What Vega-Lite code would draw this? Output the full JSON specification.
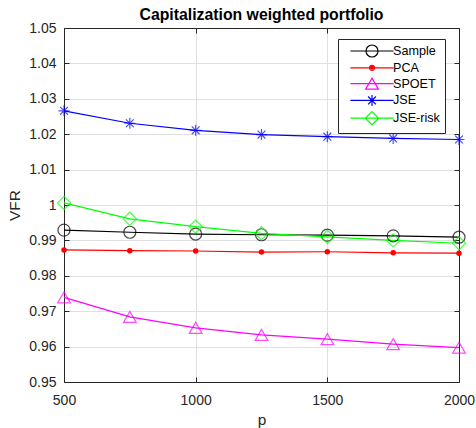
{
  "$schema": "https://vega.github.io/schema/vega-lite/v6.json",
  "width": 395,
  "height": 354,
  "autosize": {"type": "none"},
  "padding": {"left": 64, "top": 28, "right": 17, "bottom": 46},
  "background": "white",
  "config": {"view": {"stroke": null}, "font": "Liberation Sans"},
  "title": {
    "text": "Capitalization weighted portfolio",
    "font": "Liberation Sans",
    "fontSize": 15.8,
    "fontWeight": "bold",
    "color": "#000000",
    "anchor": "middle",
    "offset": -2.5
  },
  "data": {
    "values": [
      {"p": 500, "series": "Sample", "VFR": 0.9929},
      {"p": 750, "series": "Sample", "VFR": 0.9923},
      {"p": 1000, "series": "Sample", "VFR": 0.9918},
      {"p": 1250, "series": "Sample", "VFR": 0.9916},
      {"p": 1500, "series": "Sample", "VFR": 0.9915},
      {"p": 1750, "series": "Sample", "VFR": 0.9913},
      {"p": 2000, "series": "Sample", "VFR": 0.9909},
      {"p": 500, "series": "PCA", "VFR": 0.9873},
      {"p": 750, "series": "PCA", "VFR": 0.9871},
      {"p": 1000, "series": "PCA", "VFR": 0.987},
      {"p": 1250, "series": "PCA", "VFR": 0.9867},
      {"p": 1500, "series": "PCA", "VFR": 0.9868},
      {"p": 1750, "series": "PCA", "VFR": 0.9865},
      {"p": 2000, "series": "PCA", "VFR": 0.9864},
      {"p": 500, "series": "SPOET", "VFR": 0.9739},
      {"p": 750, "series": "SPOET", "VFR": 0.9684},
      {"p": 1000, "series": "SPOET", "VFR": 0.9653},
      {"p": 1250, "series": "SPOET", "VFR": 0.9633},
      {"p": 1500, "series": "SPOET", "VFR": 0.9621},
      {"p": 1750, "series": "SPOET", "VFR": 0.9607},
      {"p": 2000, "series": "SPOET", "VFR": 0.9597},
      {"p": 500, "series": "JSE", "VFR": 1.0266},
      {"p": 750, "series": "JSE", "VFR": 1.0231},
      {"p": 1000, "series": "JSE", "VFR": 1.0211},
      {"p": 1250, "series": "JSE", "VFR": 1.0199},
      {"p": 1500, "series": "JSE", "VFR": 1.0193},
      {"p": 1750, "series": "JSE", "VFR": 1.0188},
      {"p": 2000, "series": "JSE", "VFR": 1.0185},
      {"p": 500, "series": "JSE-risk", "VFR": 1.0006},
      {"p": 750, "series": "JSE-risk", "VFR": 0.9961},
      {"p": 1000, "series": "JSE-risk", "VFR": 0.9939},
      {"p": 1250, "series": "JSE-risk", "VFR": 0.992},
      {"p": 1500, "series": "JSE-risk", "VFR": 0.991},
      {"p": 1750, "series": "JSE-risk", "VFR": 0.99},
      {"p": 2000, "series": "JSE-risk", "VFR": 0.9892}
    ]
  },
  "layer": [
    {
      "mark": {"type": "line", "strokeWidth": 1.2},
      "encoding": {
        "x": {
          "field": "p", "type": "quantitative",
          "scale": {"domain": [500, 2000], "nice": false, "zero": false},
          "axis": {
            "orient": "bottom",
            "values": [500, 1000, 1500, 2000],
            "format": "d", "labelFlush": false,
            "grid": true, "gridColor": "#dfdfdf", "gridWidth": 1,
            "domainColor": "#262626", "domainWidth": 1,
            "tickColor": "#262626", "tickSize": -5,
            "labelFontSize": 14, "labelColor": "#262626", "labelPadding": 16,
            "labelFont": "Liberation Sans",
            "title": "p", "titleFontSize": 15.4, "titleFontWeight": "normal",
            "titleColor": "#262626", "titleFont": "Liberation Sans", "titlePadding": 5
          }
        },
        "y": {
          "field": "VFR", "type": "quantitative",
          "scale": {"domain": [0.95, 1.05], "nice": false, "zero": false},
          "axis": {
            "orient": "left",
            "values": [0.95, 0.96, 0.97, 0.98, 0.99, 1, 1.01, 1.02, 1.03, 1.04, 1.05],
            "format": "~g", "labelFlush": false,
            "grid": true, "gridColor": "#dfdfdf", "gridWidth": 1,
            "domainColor": "#262626", "domainWidth": 1,
            "tickColor": "#262626", "tickSize": -5,
            "labelFontSize": 14, "labelColor": "#262626", "labelPadding": 13,
            "labelFont": "Liberation Sans",
            "title": "VFR", "titleFontSize": 15.4, "titleFontWeight": "normal",
            "titleColor": "#262626", "titleFont": "Liberation Sans", "titlePadding": 6
          }
        },
        "color": {
          "field": "series", "type": "nominal", "legend": null,
          "scale": {
            "domain": ["Sample", "PCA", "SPOET", "JSE", "JSE-risk"],
            "range": ["#000000", "#ff0000", "#ff00ff", "#0000ff", "#00ff00"]
          }
        }
      }
    },
    {
      "transform": [{"filter": "datum.series !== 'PCA'"}],
      "mark": {"type": "point", "filled": false, "size": 144, "strokeWidth": 1.2},
      "encoding": {
        "x": {
          "field": "p", "type": "quantitative",
          "axis": {
            "orient": "top", "values": [500, 1000, 1500, 2000],
            "labels": false, "grid": false, "title": null,
            "domainColor": "#262626", "domainWidth": 1,
            "tickColor": "#262626", "tickSize": -5
          }
        },
        "y": {
          "field": "VFR", "type": "quantitative",
          "axis": {
            "orient": "right",
            "values": [0.95, 0.96, 0.97, 0.98, 0.99, 1, 1.01, 1.02, 1.03, 1.04, 1.05],
            "labels": false, "grid": false, "title": null,
            "domainColor": "#262626", "domainWidth": 1,
            "tickColor": "#262626", "tickSize": -5
          }
        },
        "color": {"field": "series", "type": "nominal", "legend": null},
        "shape": {
          "field": "series", "type": "nominal", "legend": null,
          "scale": {
            "domain": ["Sample", "SPOET", "JSE", "JSE-risk"],
            "range": [
              "M-1,0A1,1,0,1,1,1,0A1,1,0,1,1,-1,0Z",
              "M0,-0.92L1.06,0.92L-1.06,0.92Z",
              "M0,-0.92L0,0.92M-0.92,0L0.92,0M-0.65,-0.65L0.65,0.65M-0.65,0.65L0.65,-0.65",
              "M0,-1.1L1.1,0L0,1.1L-1.1,0Z"
            ]
          }
        }
      }
    },
    {
      "transform": [{"filter": "datum.series === 'PCA'"}],
      "mark": {"type": "point", "shape": "circle", "filled": true, "size": 30, "opacity": 1, "color": "#ff0000"},
      "encoding": {
        "x": {"field": "p", "type": "quantitative", "axis": null},
        "y": {"field": "VFR", "type": "quantitative", "axis": null}
      }
    },
    {
      "mark": {"type": "point", "filled": false, "opacity": 0, "size": 144},
      "encoding": {
        "x": {"field": "p", "type": "quantitative", "axis": null},
        "y": {"field": "VFR", "type": "quantitative", "axis": null},
        "shape": {
          "field": "series", "type": "nominal",
          "scale": {
            "domain": ["Sample", "PCA", "SPOET", "JSE", "JSE-risk"],
            "range": [
              "M-3.6,0L3.6,0M-1,0A1,1,0,1,1,1,0A1,1,0,1,1,-1,0Z",
              "M-3.6,0L3.6,0M-0.42,0A0.42,0.42,0,1,1,0.42,0A0.42,0.42,0,1,1,-0.42,0ZM-0.18,0A0.18,0.18,0,1,1,0.18,0A0.18,0.18,0,1,1,-0.18,0Z",
              "M-3.6,0L3.6,0M0,-0.92L1.06,0.92L-1.06,0.92Z",
              "M-3.6,0L3.6,0M0,-0.92L0,0.92M-0.92,0L0.92,0M-0.65,-0.65L0.65,0.65M-0.65,0.65L0.65,-0.65",
              "M-3.6,0L3.6,0M0,-1.1L1.1,0L0,1.1L-1.1,0Z"
            ]
          },
          "legend": {
            "title": null,
            "orient": "none",
            "legendX": 274,
            "legendY": 11,
            "padding": 5,
            "strokeColor": "#262626",
            "fillColor": "#ffffff",
            "symbolSize": 144,
            "symbolStrokeWidth": 1.2,
            "symbolOpacity": 1,
            "symbolStrokeColor": {"expr": "datum.value === 'Sample' ? '#000000' : datum.value === 'PCA' ? '#ff0000' : datum.value === 'SPOET' ? '#ff00ff' : datum.value === 'JSE' ? '#0000ff' : '#00ff00'"},
            "symbolOffset": 22,
            "labelOffset": 14,
            "rowPadding": 0.8,
            "labelFont": "Liberation Sans",
            "labelFontSize": 12.6,
            "labelColor": "#000000"
          }
        }
      }
    }
  ],
  "resolve": {
    "scale": {"shape": "independent"},
    "axis": {"x": "independent", "y": "independent"}
  }
}
